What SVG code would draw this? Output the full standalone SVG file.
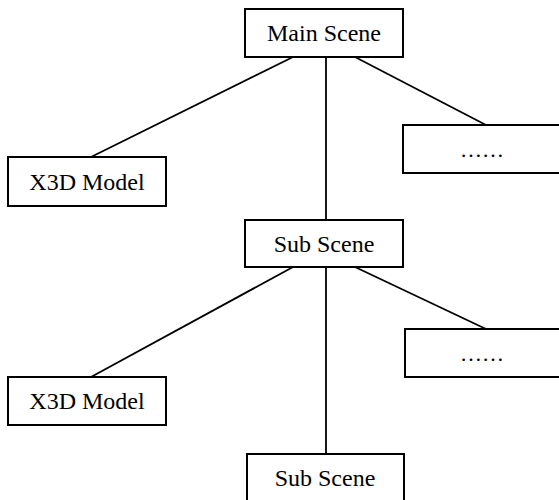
<svg xmlns="http://www.w3.org/2000/svg" width="559" height="500" viewBox="0 0 559 500">
<style>
.box{fill:#fff;stroke:#000;stroke-width:2}
.lbl{font-family:"Liberation Serif","Times New Roman",serif;font-size:24px;fill:#000;text-anchor:middle}
.dots{font-family:"Liberation Serif","Times New Roman",serif;font-size:22px;fill:#000;text-anchor:middle}
.conn line{stroke:#000;stroke-width:1.8}
</style>
<rect width="559" height="500" fill="#fff"/>
<g id="connectors" class="conn">
<line x1="293" y1="57" x2="91" y2="157"/>
<line x1="326" y1="57" x2="326" y2="220"/>
<line x1="355" y1="57" x2="486" y2="125"/>
<line x1="293" y1="267" x2="91" y2="377"/>
<line x1="326" y1="267" x2="326" y2="454"/>
<line x1="355" y1="267" x2="486" y2="329"/>
</g>
<g id="main-scene">
<rect class="box" x="245" y="9" width="158" height="48"/>
<text class="lbl" x="324" y="41">Main Scene</text>
</g>
<g id="x3d-model-1">
<rect class="box" x="8" y="157" width="158" height="49"/>
<text class="lbl" x="87" y="190">X3D Model</text>
</g>
<g id="more-1">
<rect class="box" x="403" y="125" width="170" height="48"/>
<text class="dots" x="482" y="157">……</text>
</g>
<g id="sub-scene-1">
<rect class="box" x="245" y="220" width="158" height="47"/>
<text class="lbl" x="324" y="252">Sub Scene</text>
</g>
<g id="x3d-model-2">
<rect class="box" x="8" y="377" width="158" height="48"/>
<text class="lbl" x="87" y="409">X3D Model</text>
</g>
<g id="more-2">
<rect class="box" x="405" y="329" width="170" height="48"/>
<text class="dots" x="482" y="361">……</text>
</g>
<g id="sub-scene-2">
<rect class="box" x="247" y="454" width="157" height="60"/>
<text class="lbl" x="325" y="486">Sub Scene</text>
</g>
</svg>
